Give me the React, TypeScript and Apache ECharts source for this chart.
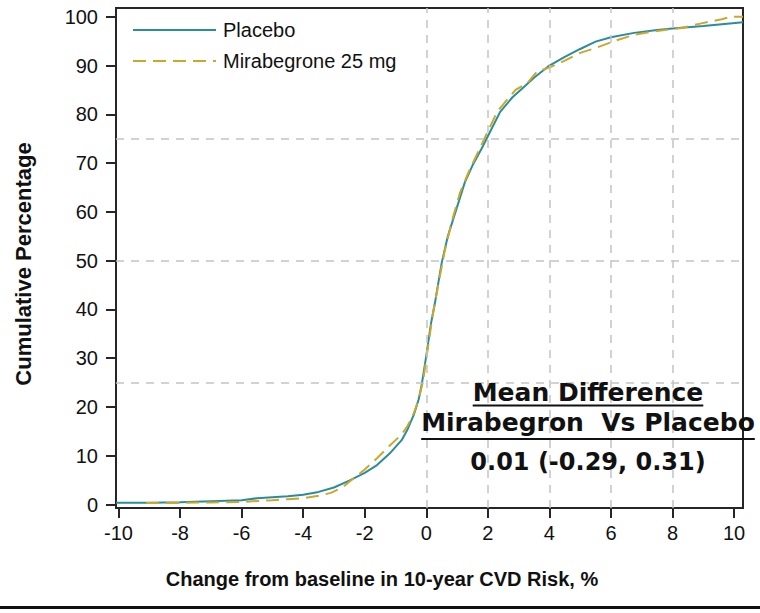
import React, { useEffect, useRef } from "react";
import * as echarts from "echarts";

// ---- Data ----
const placeboX = [-10.08, -9, -8, -7, -6, -5.5, -5, -4.5, -4, -3.5, -3, -2.5, -2, -1.6, -1.2, -0.8, -0.6, -0.4, -0.25, -0.15, 0, 0.15, 0.3, 0.5, 0.7, 0.95, 1.25, 1.5, 1.8, 2.0, 2.4, 2.8, 3.1, 3.5, 4.0, 4.5, 5.0, 5.5, 6.0, 6.75, 7.5, 8.0, 9.0, 10.29];
const placeboY = [0.4, 0.4, 0.5, 0.7, 0.9, 1.3, 1.5, 1.7, 2.0, 2.6, 3.5, 4.9, 6.5, 8.1, 10.4, 13.2, 15.5, 18.5, 21.5, 24.5, 30.5, 37, 42, 49.5, 55, 60, 66, 69.5, 73, 75.5, 80.5, 83.5, 85.2, 87.5, 90, 91.8, 93.4, 94.9, 95.8, 96.7, 97.3, 97.6, 98.1, 98.9];

const mirabX = [-9.1, -8, -7, -6, -5, -4.5, -4, -3.5, -3.1, -2.7, -2.4, -2.0, -1.6, -1.2, -0.8, -0.6, -0.4, -0.25, -0.1, 0.05, 0.2, 0.4, 0.6, 0.85, 1.1, 1.4, 1.7, 2.0, 2.3, 2.6, 2.9, 3.3, 3.6, 4.0, 4.5, 5.0, 5.5, 6.1, 6.75, 7.5, 8.3, 8.9, 9.6, 9.9, 10.29];
const mirabY = [0.3, 0.35, 0.45, 0.55, 0.9, 1.1, 1.3, 1.8, 2.4, 3.6, 5.2, 7.2, 9.5, 12.0, 14.4, 16.2, 18.8, 21.5, 25.5, 32, 38.5, 45.5, 52, 58.5, 64, 68.5, 72.5, 76.5, 80.5, 82.8, 85, 86.5, 88.8, 89.6, 91, 92.6, 93.6, 95, 96.3, 97.1, 97.7, 98.6, 99.5, 100, 100];

const xTicks = [-10, -8, -6, -4, -2, 0, 2, 4, 6, 8, 10];
const yTicks = [0, 10, 20, 30, 40, 50, 60, 70, 80, 90, 100];
const refLinesX = [0, 2, 4, 6, 8];
const refLinesY = [25, 50, 75];

const seriesNames = ["Placebo", "Mirabegrone 25 mg"];
const xTitle = "Change from baseline in 10-year CVD Risk, %";
const yTitle = "Cumulative Percentage";
const annotationLines = ["Mean Difference", "Mirabegron  Vs Placebo", "0.01 (-0.29, 0.31)"];

const SANS = '"Liberation Sans", Arial, sans-serif';
const ANNOT = '"DejaVu Sans", Verdana, sans-serif';

function measure(text: string, font: string, fallback: number): number {
  try {
    const ctx = document.createElement("canvas").getContext("2d");
    if (!ctx) return fallback;
    ctx.font = font;
    return ctx.measureText(text).width;
  } catch (e) {
    return fallback;
  }
}

export default function App() {
  const ref = useRef<HTMLDivElement>(null);

  useEffect(() => {
    if (!ref.current) return;
    const chart = echarts.init(ref.current, undefined, { renderer: "svg" });

    const annotX = 588;
    const annotFont = `bold 25px ${ANNOT}`;
    const annotFont3 = `bold 24px ${ANNOT}`;
    const w1 = measure(annotationLines[0], annotFont, 236);
    const w2 = measure(annotationLines[1], annotFont, 340);

    const centered = {
      align: "center",
      verticalAlign: "middle",
      textAlign: "center",
      textVerticalAlign: "middle",
    };

    const option: any = {
      animation: false,
      backgroundColor: "#ffffff",
      grid: {
        left: 116,
        right: 17,
        top: 8,
        bottom: 105,
        show: true,
        borderColor: "#262626",
        borderWidth: 2,
        backgroundColor: "transparent",
      },
      legend: {
        data: seriesNames,
        orient: "vertical",
        left: 127,
        top: 14,
        itemWidth: 83,
        itemHeight: 14,
        itemGap: 9,
        itemStyle: { opacity: 0 },
        textStyle: {
          fontFamily: SANS,
          fontSize: 20,
          color: "#111",
          padding: [0, 0, 0, 2],
          lineHeight: 22,
        },
      },
      xAxis: {
        type: "value",
        min: -10.08,
        max: 10.29,
        axisLine: { show: true, onZero: false, lineStyle: { color: "#262626", width: 2 } },
        axisTick: {
          show: true,
          length: 10,
          customValues: xTicks,
          lineStyle: { color: "#262626", width: 2 },
        },
        axisLabel: {
          customValues: xTicks,
          fontFamily: SANS,
          fontSize: 20,
          color: "#111",
          margin: 15,
        },
        splitLine: { show: false },
      },
      yAxis: {
        type: "value",
        min: -0.7,
        max: 101.8,
        axisLine: { show: true, onZero: false, lineStyle: { color: "#262626", width: 2 } },
        axisTick: {
          show: true,
          length: 10,
          customValues: yTicks,
          lineStyle: { color: "#262626", width: 2 },
        },
        axisLabel: {
          customValues: yTicks,
          fontFamily: SANS,
          fontSize: 20,
          color: "#111",
          margin: 18,
        },
        splitLine: { show: false },
      },
      series: [
        {
          name: "ref",
          type: "line",
          data: [],
          z: 1,
          silent: true,
          markLine: {
            silent: true,
            symbol: "none",
            label: { show: false },
            lineStyle: { type: [8, 7], color: "#c4c4c4", width: 1.5 },
            emphasis: { disabled: true },
            data: [
              ...refLinesX.map((v) => ({ xAxis: v })),
              ...refLinesY.map((v) => ({ yAxis: v })),
            ],
          },
        },
        {
          name: seriesNames[0],
          type: "line",
          symbol: "none",
          showSymbol: false,
          z: 3,
          data: placeboX.map((x, i) => [x, placeboY[i]]),
          lineStyle: { color: "#2b8c9a", width: 2 },
          itemStyle: { color: "#2b8c9a" },
        },
        {
          name: seriesNames[1],
          type: "line",
          symbol: "none",
          showSymbol: false,
          z: 4,
          data: mirabX.map((x, i) => [x, mirabY[i]]),
          lineStyle: { color: "#c9a82c", width: 2, type: [13, 7] },
          itemStyle: { color: "#c9a82c" },
        },
      ],
      graphic: [
        {
          type: "text",
          x: 23,
          y: 264,
          rotation: Math.PI / 2,
          style: { text: yTitle, font: `bold 22px ${SANS}`, fill: "#111", ...centered },
        },
        {
          type: "text",
          x: 382,
          y: 579,
          style: { text: xTitle, font: `bold 20px ${SANS}`, fill: "#111", ...centered },
        },
        {
          type: "text",
          x: annotX,
          y: 392,
          z: 10,
          style: { text: annotationLines[0], font: annotFont, fill: "#111", ...centered },
        },
        {
          type: "line",
          z: 10,
          shape: { x1: annotX - w1 / 2, y1: 405.5, x2: annotX + w1 / 2, y2: 405.5 },
          style: { stroke: "#111", lineWidth: 2 },
        },
        {
          type: "text",
          x: annotX,
          y: 422,
          z: 10,
          style: { text: annotationLines[1], font: annotFont, fill: "#111", ...centered },
        },
        {
          type: "line",
          z: 10,
          shape: { x1: annotX - w2 / 2, y1: 439, x2: annotX + w2 / 2, y2: 439 },
          style: { stroke: "#111", lineWidth: 2 },
        },
        {
          type: "text",
          x: annotX,
          y: 462,
          z: 10,
          style: { text: annotationLines[2], font: annotFont3, fill: "#111", ...centered },
        },
        {
          type: "rect",
          shape: { x: 0, y: 606, width: 760, height: 3 },
          style: { fill: "#111" },
        },
      ],
    };

    chart.setOption(option);
    return () => {
      chart.dispose();
    };
  }, []);

  return (
    <div
      ref={ref}
      style={{ position: "fixed", left: 0, top: 0, width: 760, height: 613 }}
    />
  );
}
